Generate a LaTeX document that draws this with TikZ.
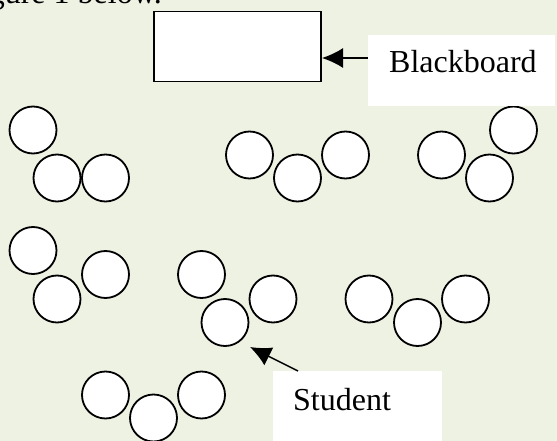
\documentclass[tikz,border=0pt]{standalone}
\usepackage{fontspec}
\setmainfont{Liberation Serif}
\usetikzlibrary{arrows.meta}
\definecolor{paper}{RGB}{238,242,227}
\tikzset{
  seat/.style={circle,draw,line width=1.8pt,fill=white,minimum size=47pt,inner sep=0pt},
  labelbox/.style={rectangle,fill=white,inner sep=0pt,anchor=north west},
  labeltext/.style={inner sep=0pt,anchor=base west,font=\fontsize{32}{38}\selectfont},
  pointer/.style={-{Latex[length=21pt,width=20pt]},line width=1.5pt}
}
\begin{document}
\begin{tikzpicture}[x=1pt,y=-1pt]
%Page
\fill[paper] (0,0) rectangle (557,441);
\useasboundingbox (0,0) rectangle (557,441);
\clip (0,0) rectangle (557,441);
\node[inner sep=0pt,anchor=base east,font=\fontsize{32}{38}\selectfont] (caption) at (162,4) {Figure 1 below.};

% Blackboard
\node[rectangle,draw,line width=1.8pt,fill=white,minimum width=167pt,minimum height=70pt,inner sep=0pt] (board) at (237.5,46.5) {};

% Students
\foreach \x/\y [count=\i] in {33/130, 57/178, 105.5/178,
    249.5/155, 297.5/178, 345.5/155,
    441.5/155, 489.5/178, 513.5/130,
    33/250.5, 57/299, 105.5/274.5,
    201.5/274.5, 225/322.5, 273/299,
    369/299, 417.5/322.5, 465.5/299,
    105.5/395, 153.5/418, 201.5/395}
  \node[seat] (s\i) at (\x,\y) {};

%Labels
\node[labelbox,minimum width=187pt,minimum height=71pt] (bblabel) at (368,35) {};
\node[labeltext] (bbtext) at (389,73) {Blackboard};
\node[labelbox,minimum width=169pt,minimum height=75pt] (stlabel) at (273,371) {};
\node[labeltext] (sttext) at (293,410) {Student};

%Arrows
\coordinate (bbtip) at (322,58);
\coordinate (sttip) at (250,347);
\draw[pointer] (bblabel.west |- bbtip) -- (bbtip);
\draw[pointer] ([xshift=25pt]stlabel.north west) -- (sttip);
\end{tikzpicture}
\end{document}
